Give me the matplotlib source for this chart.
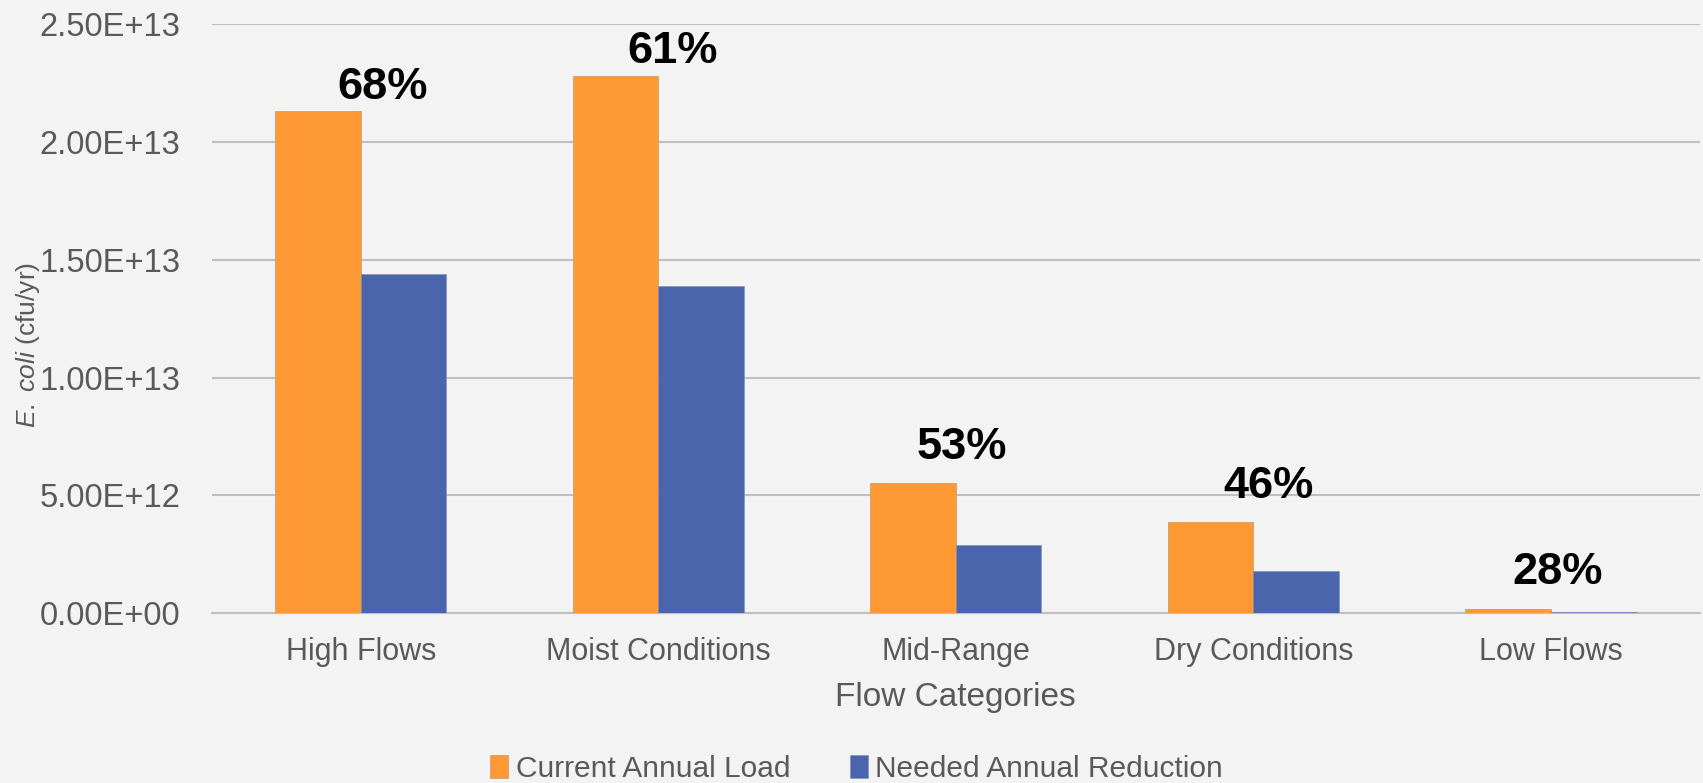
import numpy as np
import matplotlib.pyplot as plt

plt.rcParams['font.family'] = ['Liberation Sans', 'DejaVu Sans']
plt.rcParams['mathtext.fontset'] = 'custom'
plt.rcParams['mathtext.rm'] = 'Liberation Sans'
plt.rcParams['mathtext.it'] = 'Liberation Sans:italic'

# Flow categories and loads (cfu/yr)
categories = ['High Flows', 'Moist Conditions', 'Mid-Range', 'Dry Conditions', 'Low Flows']
current_load = [2.13e13, 2.28e13, 5.52e12, 3.87e12, 1.85e11]
needed_reduction = [1.44e13, 1.39e13, 2.90e12, 1.80e12, 5.2e10]
pct_labels = ['68%', '61%', '53%', '46%', '28%']

# offsets (points) of the percent labels from the top of the load bar
label_dx = [16, 10, 4, 11, 5]
label_dy = [8.6, 9.4, 17, 17, 18]

bg = '#F2F3F2'
text_gray = '#595959'
orange = '#FF9933'
blue = '#4A65AC'

fig = plt.figure(figsize=(17.03, 7.83), dpi=100, facecolor=bg)
ax = fig.add_axes([0.1245, 0.217, 0.8735, 0.752], facecolor=bg)

x = np.arange(len(categories))
w = 0.288

ax.bar(x - w / 2, current_load, w, color=orange, edgecolor='#C8A070', linewidth=0.6,
       label='Current Annual Load', zorder=3)
ax.bar(x + w / 2, needed_reduction, w, color=blue, edgecolor='#8090B8', linewidth=0.4,
       label='Needed Annual Reduction', zorder=3)

for i, txt in enumerate(pct_labels):
    ax.annotate(txt, (x[i], current_load[i]), xytext=(label_dx[i], label_dy[i]),
                textcoords='offset points', ha='center', va='baseline',
                fontsize=32.5, fontweight='bold', color='black', zorder=4)

ax.set_xlim(-0.5, len(categories) - 0.5)
ax.set_ylim(0, 2.5e13)
ax.set_yticks(np.arange(0, 2.51e13, 5e12))
ax.yaxis.set_major_formatter(plt.FuncFormatter(
    lambda v, p: '{:.2E}'.format(v)))
ax.set_xticks(x)
ax.set_xticklabels(categories)

ax.grid(axis='y', color='#BFBFBF', linewidth=1.5, zorder=0)
for s in ['top', 'right', 'left']:
    ax.spines[s].set_visible(False)
ax.spines['bottom'].set_color('#BFBFBF')
ax.spines['bottom'].set_linewidth(1.5)

ax.tick_params(axis='y', length=0, pad=23, labelsize=23.5, labelcolor=text_gray)
ax.tick_params(axis='x', length=0, pad=17, labelsize=22, labelcolor=text_gray)

ax.set_xlabel('Flow Categories', fontsize=24, color=text_gray, labelpad=11)
ax.set_ylabel(r'$\mathit{E.}$ $\mathit{coli}$ (cfu/yr)', fontsize=19, color=text_gray)
ax.yaxis.set_label_coords(-0.114, 0.455)

fig.legend(loc='center', bbox_to_anchor=(0.503, 0.018), ncol=2, frameon=False,
           fontsize=21.5, labelcolor=text_gray, handlelength=0.6, handleheight=0.8,
           handletextpad=0.25, columnspacing=2.0)

fig.savefig('out.png', dpi=100, facecolor=bg)
